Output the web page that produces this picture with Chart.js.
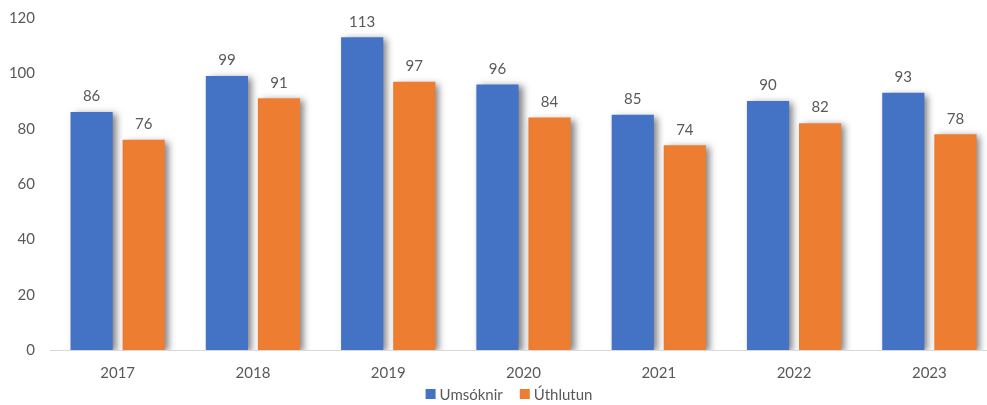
<!DOCTYPE html>
<html>
<head>
<meta charset="utf-8">
<script src="https://cdn.jsdelivr.net/npm/chart.js@4"></script>
<style>
    html, body { margin: 0; padding: 0; background: #fff; overflow: hidden; }
    #wrap { width: 987px; height: 405px; overflow: hidden; }
    #box { width: 1000px; height: 405px; }
</style>
</head>
<body>
<div id="wrap"><div id="box"><canvas id="chartApps"></canvas></div></div>
<script>
const years = ['2017', '2018', '2019', '2020', '2021', '2022', '2023']
const umsoknir = [86, 99, 113, 96, 85, 90, 93]
const uthlutun = [76, 91, 97, 84, 74, 82, 78]
const yTicks = [0, 20, 40, 60, 80, 100, 120]

const textColor = '#595959'
const fontFamily = 'Lato, "Open Sans", sans-serif'

// soft shadow behind the bars, like the office chart
const barShadow = {
    id: 'barShadow',
    beforeDatasetsDraw(chart) {
        const c = chart.ctx
        c.save()
        c.shadowColor = 'rgba(0, 0, 0, 0.5)'
        c.shadowBlur = 7
        c.shadowOffsetX = 4
        c.shadowOffsetY = 2
    },
    afterDatasetsDraw(chart) {
        chart.ctx.restore()
    }
}

// value on top of each bar
const valueLabels = {
    id: 'valueLabels',
    afterDatasetsDraw(chart) {
        const c = chart.ctx
        c.save()
        c.font = '15px ' + fontFamily
        c.fillStyle = textColor
        c.textAlign = 'center'
        c.textBaseline = 'bottom'
        chart.data.datasets.forEach((ds, i) => {
            chart.getDatasetMeta(i).data.forEach((bar, j) => {
                c.fillText(ds.data[j], bar.x, bar.y - 8)
            })
        })
        c.restore()
    }
}

// legend drawn by hand so it sits close under the year labels
const bottomLegend = {
    id: 'bottomLegend',
    afterDraw(chart) {
        const c = chart.ctx
        c.save()
        c.font = '15px ' + fontFamily
        c.textBaseline = 'middle'
        const box = 10, gapBox = 4, gapItem = 17
        const items = chart.data.datasets.map(ds => ({
            text: ds.label,
            color: ds.backgroundColor,
            w: box + gapBox + c.measureText(ds.label).width
        }))
        const total = items.reduce((a, it) => a + it.w, 0) + gapItem * (items.length - 1)
        let x = chart.width / 2 + 9 - total / 2
        const y = chart.height - 11
        items.forEach(it => {
            c.fillStyle = it.color
            c.fillRect(x, y - box / 2, box, box)
            c.fillStyle = textColor
            c.fillText(it.text, x + box + gapBox, y + 1)
            x += it.w + gapItem
        })
        c.restore()
    }
}

const config = {
    type: 'bar',
    data: {
        labels: years,
        datasets: [{
                label: 'Umsóknir',
                data: umsoknir,
                backgroundColor: '#4472C4',
                categoryPercentage: 0.77,
                barPercentage: 0.81
            },
            {
                label: 'Úthlutun',
                data: uthlutun,
                backgroundColor: '#ED7D31',
                categoryPercentage: 0.77,
                barPercentage: 0.81
            }
        ]
    },
    options: {
        responsive: true,
        maintainAspectRatio: false,
        animation: false,
        layout: {
            padding: { left: 0, right: 3, top: 18, bottom: 9 }
        },
        plugins: {
            legend: { display: false },
            tooltip: { enabled: false }
        },
        scales: {
            x: {
                grid: { display: false, drawTicks: false },
                border: { display: true, color: '#d9d9d9', width: 1 },
                ticks: {
                    color: textColor,
                    padding: 14,
                    font: { family: fontFamily, size: 15 }
                }
            },
            y: {
                min: 0,
                max: 120,
                afterBuildTicks: axis => {
                    axis.ticks = yTicks.map(v => ({ value: v }))
                },
                afterFit: axis => {
                    axis.width = 50
                    axis.paddingTop = 0
                },
                grid: { display: false, drawTicks: false },
                border: { display: false },
                ticks: {
                    color: textColor,
                    padding: 15,
                    font: { family: fontFamily, size: 15 }
                }
            }
        }
    },
    plugins: [barShadow, valueLabels, bottomLegend]
}

new Chart(document.getElementById('chartApps'), config)
</script>
</body>
</html>
